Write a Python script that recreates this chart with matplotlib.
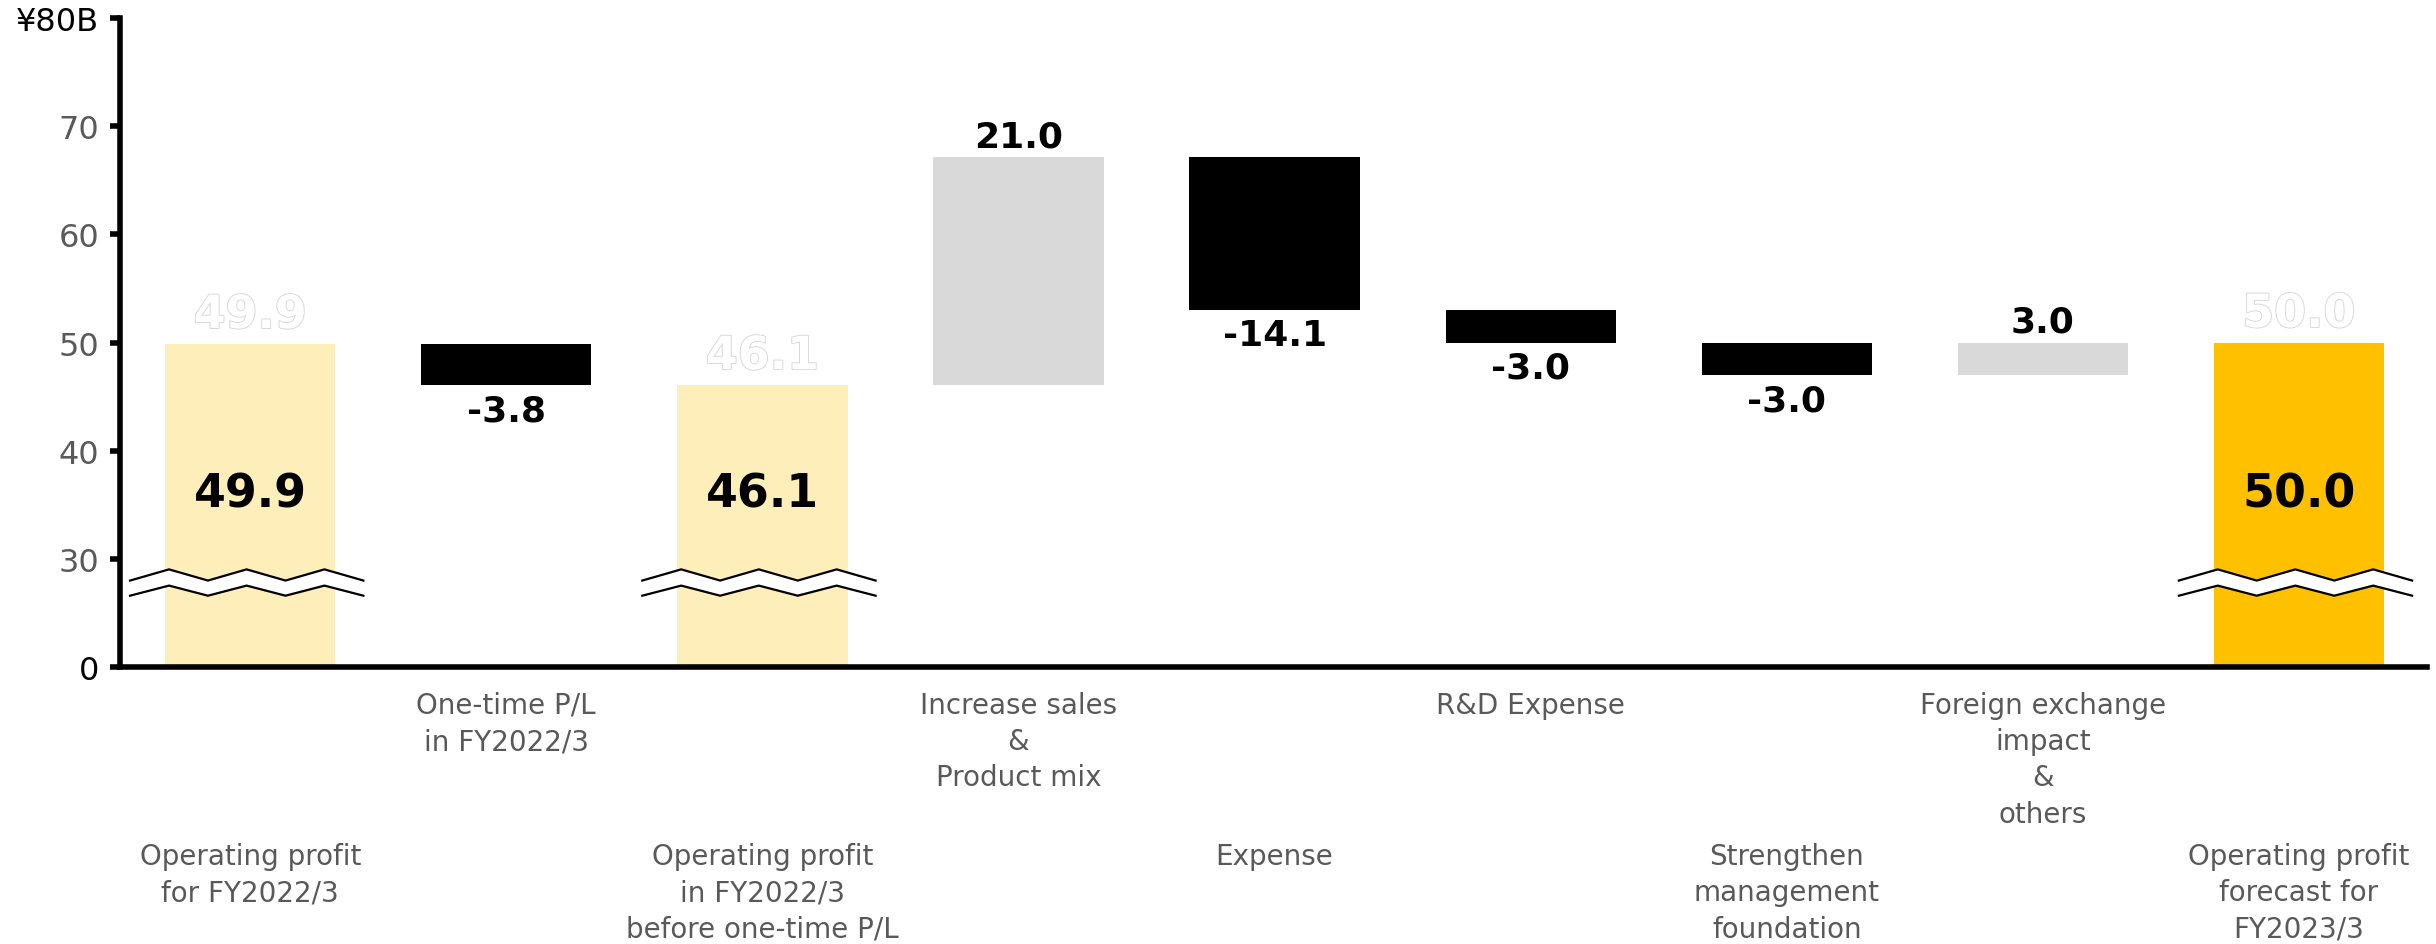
import numpy as np
import matplotlib
matplotlib.use("Agg")
import matplotlib.pyplot as plt
import matplotlib.patheffects as pe

# Data ------------------------------------------------------------------------

categories = [
    "Operating profit\nfor FY2022/3",
    "One-time P/L\nin FY2022/3",
    "Operating profit\nin FY2022/3\nbefore one-time P/L",
    "Increase sales\n&\nProduct mix",
    "Expense",
    "R&D Expense",
    "Strengthen\nmanagement\nfoundation",
    "Foreign exchange\nimpact\n&\nothers",
    "Operating profit\nforecast for\nFY2023/3",
]
amounts = [49.9, -3.8, 46.1, 21.0, -14.1, -3.0, -3.0, 3.0, 50.0]
kinds = ["total", "delta", "total", "delta", "delta", "delta", "delta", "delta", "total"]

y_ticks = [0, 30, 40, 50, 60, 70, 80]
y_tick_labels = ["0", "30", "40", "50", "60", "70", "¥80B"]

# Styles ----------------------------------------------------------------------

total_colors = {0: "#FDEEBA", 2: "#FDEEBA", 8: "#FFC000"}
up_color = "#D9D9D9"
down_color = "#000000"
label_gray = "#595959"

plt.rcParams["font.family"] = ["DejaVu Sans"]


# broken axis: 0-30 squeezed into one tick step -------------------------------

def fwd(y):
    y = np.asarray(y, dtype=float)
    return np.where(y < 30, y / 3.0, y - 20.0)


def inv(t):
    t = np.asarray(t, dtype=float)
    return np.where(t < 10, t * 3.0, t + 20.0)


fig = plt.figure(figsize=(24.36, 9.45), dpi=100)
ax = fig.add_axes([0.0493, 0.293, 0.947, 0.687])
ax.set_yscale("function", functions=(fwd, inv))

# waterfall bars --------------------------------------------------------------

running = 0.0
bottoms = []
heights = []
colors = []
for i, (v, k) in enumerate(zip(amounts, kinds)):
    if k == "total":
        bottoms.append(0.0)
        heights.append(v)
        colors.append(total_colors[i])
        running = v
    else:
        if v >= 0:
            bottoms.append(running)
            colors.append(up_color)
        else:
            bottoms.append(running + v)
            colors.append(down_color)
        heights.append(abs(v))
        running = running + v

x = np.arange(len(amounts))
ax.bar(x, heights, bottom=bottoms, width=0.665, color=colors, zorder=1)

# labels on bars --------------------------------------------------------------

for i, (v, k) in enumerate(zip(amounts, kinds)):
    top = bottoms[i] + heights[i]
    if k == "total":
        ax.text(i, 36, f"{v:.1f}", ha="center", va="center",
                fontsize=33, fontweight="bold", color="black", zorder=5)
        ax.annotate(f"{v:.1f}", xy=(i, top), xytext=(0, 4),
                    textcoords="offset points", ha="center", va="bottom",
                    fontsize=33, fontweight="bold", color="white",
                    path_effects=[pe.withStroke(linewidth=1.3, foreground="#D6D6D6")])
    elif v >= 0:
        ax.annotate(f"{v:.1f}", xy=(i, top), xytext=(0, 3),
                    textcoords="offset points", ha="center", va="bottom",
                    fontsize=26, fontweight="bold", color="black")
    else:
        ax.annotate(f"{v:.1f}", xy=(i, bottoms[i]), xytext=(0, -6),
                    textcoords="offset points", ha="center", va="top",
                    fontsize=26, fontweight="bold", color="black")

# break marks on the total bars -----------------------------------------------

zig_x = np.array([-0.469, -0.317, -0.165, -0.014, 0.138, 0.290, 0.442])
zig_upper = np.array([24.0, 27.1, 24.0, 27.1, 24.0, 27.1, 24.0])
zig_lower = np.array([19.8, 22.6, 19.8, 22.6, 19.8, 22.6, 19.8])
for i, k in enumerate(kinds):
    if k != "total":
        continue
    ax.fill_between(i + zig_x, zig_lower, zig_upper, color="white", lw=0, zorder=3)
    ax.plot(i + zig_x, zig_upper, color="black", lw=1.6, zorder=4)
    ax.plot(i + zig_x, zig_lower, color="black", lw=1.6, zorder=4)

# category labels, two staggered rows -----------------------------------------

for i, name in enumerate(categories):
    off = -17 if i % 2 == 1 else -126
    ax.annotate(name, xy=(i, 0), xycoords=("data", "axes fraction"),
                xytext=(0, off), textcoords="offset points",
                ha="center", va="top", fontsize=20, color=label_gray,
                linespacing=1.38)

# axes ------------------------------------------------------------------------

ax.set_xlim(-0.508, 8.5)
ax.set_ylim(0, 80)
ax.set_xticks([])
ax.set_yticks(y_ticks)
ax.set_yticklabels(y_tick_labels, fontsize=23)
for lbl, t in zip(ax.get_yticklabels(), y_ticks):
    lbl.set_color("black" if t in (0, 80) else label_gray)
ax.tick_params(axis="y", length=7, width=4, pad=8)
ax.yaxis.set_minor_locator(matplotlib.ticker.NullLocator())

ax.spines["top"].set_visible(False)
ax.spines["right"].set_visible(False)
ax.spines["left"].set_linewidth(4)
ax.spines["bottom"].set_linewidth(4)

fig.savefig("out.png", dpi=100)
